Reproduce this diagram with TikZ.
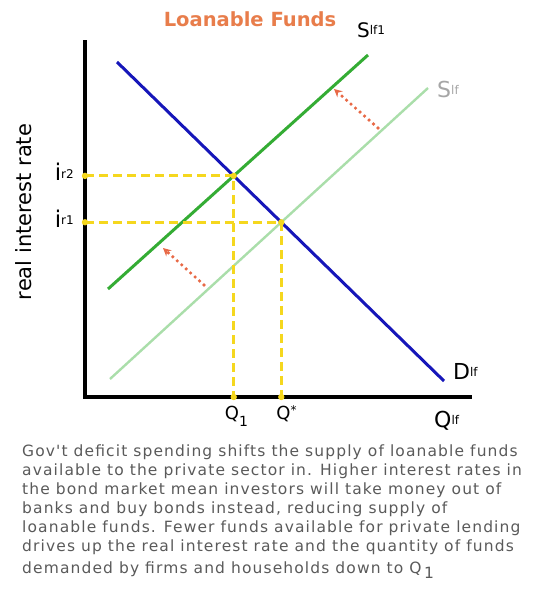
\documentclass[tikz,border=0pt]{standalone}
\usepackage{fontspec}
\setmainfont{DejaVu Sans}
\newfontfamily\captionfont[LetterSpace=7.2]{DejaVu Sans}
\usepackage{xcolor}
\usepackage{tikz}
\usetikzlibrary{arrows.meta, intersections}

\definecolor{demblue}{RGB}{22,22,185}
\definecolor{supgreen}{RGB}{52,172,52}
\definecolor{oldgreen}{RGB}{170,222,170}
\definecolor{guideyellow}{RGB}{245,215,30}
\definecolor{shiftred}{RGB}{232,105,70}
\definecolor{titleorange}{RGB}{232,125,75}
\definecolor{textgrey}{RGB}{90,90,90}

% big letter with a small raised tag, e.g. S lf1
\newcommand{\curvelab}[3][20]{{\fontsize{#1}{#1}\selectfont #2}\raisebox{2.5pt}{\fontsize{12}{12}\selectfont #3}}

\begin{document}
\begin{tikzpicture}[
    x=1pt, y=-1pt,
    axis/.style={line width=3.4pt},
    curve/.style={line width=3pt},
    guide/.style={draw=guideyellow, line width=2.8pt, dash pattern=on 9pt off 5pt},
    guidedot/.style={fill=guideyellow},
    shiftarr/.style={draw=shiftred, line width=3.6pt, line cap=round,
        dash pattern=on 0pt off 6pt, -{Stealth[length=8pt, width=8pt]}},
    lab/.style={inner sep=0pt, font=\fontsize{18}{18}\selectfont}
]
\useasboundingbox (0,0) rectangle (533,614);

\node[lab, text=titleorange, font=\bfseries\fontsize{19.5}{19.5}\selectfont, anchor=base] (title) at (250,26) {Loanable Funds};

% axes
\coordinate (ytop) at (85,40);
\coordinate (origin) at (85,397);
\coordinate (xend) at (472,397);
\draw[axis] (ytop) -- (origin) -- (xend);
\node[lab, rotate=90, font=\fontsize{21}{21}\selectfont] (ylab) at (24,212) {real interest rate};

% demand and supply
\coordinate (d0) at (117,62);
\coordinate (d1) at (444,381);
\coordinate (s0a) at (110,379);
\coordinate (s0b) at (428,88);
\coordinate (s1a) at (108,289);
\coordinate (s1b) at (368,55);
\draw[curve, draw=oldgreen, line width=2.4pt, name path=sup0] (s0a) -- (s0b);
\draw[curve, draw=supgreen, name path=sup1] (s1a) -- (s1b);
\draw[curve, draw=demblue, name path=dem] (d0) -- (d1);

\path[name intersections={of=dem and sup1, by=eq2}];
\path[name intersections={of=dem and sup0, by=eq1}];

% guide lines
\draw[guide] (eq2 -| origin) -- (eq2) -- (eq2 |- origin);
\draw[guide] (eq1 -| origin) -- (eq1) -- (eq1 |- origin);
\foreach \p in {eq1, eq2} {
    \fill[guidedot] (\p) circle (3.2);
    \fill[guidedot] (\p -| origin) circle (3.2);
    \fill[guidedot] (\p |- origin) circle (3.2);
}

% shift arrows
\coordinate (up0) at (378,128);
\coordinate (up1) at (334,89);
\coordinate (lo0) at (204,285);
\coordinate (lo1) at (163,248);
\draw[shiftarr] (up0) -- (up1);
\draw[shiftarr] (lo0) -- (lo1);

% labels
\node[lab, anchor=base west] (slf1) at (357,37) {\curvelab{S}{lf1}};
\node[lab, anchor=base west, text=black!35] (slf) at (437,97) {\curvelab[22]{S}{lf}};
\node[lab, anchor=base west] (dlf) at (453,379) {\curvelab[22]{D}{lf}};
\node[lab, anchor=base west] (qlf) at (434,427) {\curvelab[22]{Q}{lf}};
\node[lab, anchor=base east] (ir2) at ([xshift=-11pt, yshift=-5pt]eq2 -| origin) {\curvelab[23]{i}{r2}};
\node[lab, anchor=base east] (ir1) at ([xshift=-11pt, yshift=-5pt]eq1 -| origin) {\curvelab[23]{i}{r1}};
\node[lab, anchor=base west] (q1) at ([xshift=-9pt, yshift=-22pt]eq2 |- origin) {Q\raisebox{-7pt}{\fontsize{14}{14}\selectfont 1}};
\node[lab, anchor=base west] (qstar) at ([xshift=-5pt, yshift=-22pt]eq1 |- origin) {Q\raisebox{5pt}{\fontsize{12}{12}\selectfont *}};

% caption
\node[anchor=north west, align=left, inner sep=0pt, text=textgrey,
    font=\captionfont\fontsize{15.5}{19}\selectfont] (caption) at (22,445)
  {Gov't deficit spending shifts the supply of loanable funds\\
   available to the private sector in. Higher interest rates in\\
   the bond market mean investors will take money out of\\
   banks and buy bonds instead, reducing supply of\\
   loanable funds. Fewer funds available for private lending\\
   drives up the real interest rate and the quantity of funds\\[3pt]
   demanded by firms and households down to Q\,\raisebox{-5pt}{1}};
\end{tikzpicture}
\end{document}
